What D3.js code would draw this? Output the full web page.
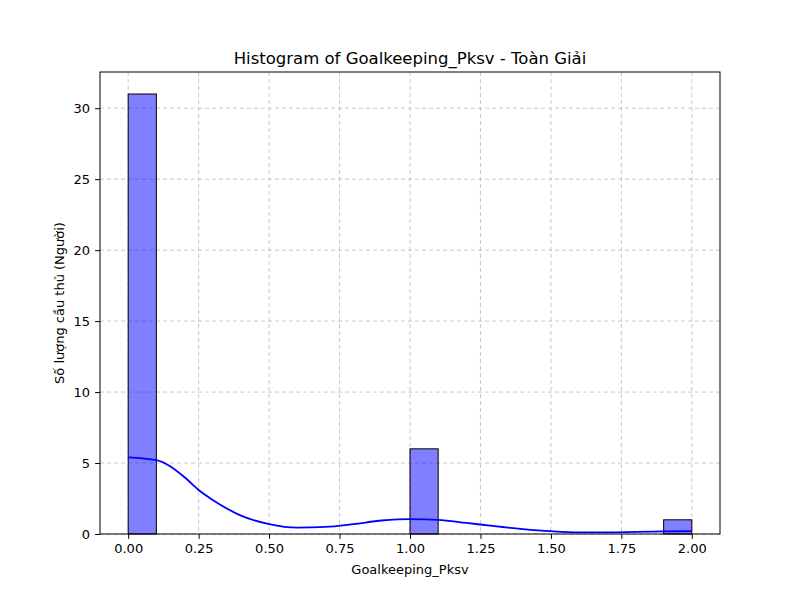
<!DOCTYPE html>
<html>
<head>
<meta charset="UTF-8">
<script src="https://cdn.jsdelivr.net/npm/d3@7"></script>
<style>body{margin:0;background:#fff}text{font-family:"DejaVu Sans",sans-serif}</style>
</head>
<body>
<script>
const binStarts = [0,0.1,0.2,0.3,0.4,0.5,0.6,0.7,0.8,0.9,1.0,1.1,1.2,1.3,1.4,1.5,1.6,1.7,1.8,1.9]
const binCounts = [31,0,0,0,0,0,0,0,0,0,6,0,0,0,0,0,0,0,0,1]
const kdeX = [0,0.1,0.2,0.25,0.3,0.4,0.5,0.6,0.7,0.8,0.9,1.0,1.1,1.2,1.3,1.4,1.5,1.6,1.7,1.8,1.9,2.0]
const kdeY = [5.4,5.2,4.0,3.1,2.4,1.3,0.7,0.45,0.5,0.7,0.95,1.05,1.0,0.78,0.55,0.35,0.2,0.12,0.12,0.15,0.18,0.2]
const xTicks = [0,0.25,0.5,0.75,1.0,1.25,1.5,1.75,2.0]
const yTicks = [0,5,10,15,20,25,30]

const w = 800, h = 600
const m = {l:100, r:720, t:72, b:534}
const svg = d3.select("body").append("svg").attr("width", w).attr("height", h)
const x = d3.scaleLinear().domain([-0.1, 2.1]).range([m.l, m.r])
const y = d3.scaleLinear().domain([0, 32.55]).range([m.b, m.t])

//Grid
svg.append("g").selectAll("line").data(xTicks).join("line")
  .attr("x1", d => x(d)).attr("x2", d => x(d)).attr("y1", m.t).attr("y2", m.b)
  .attr("stroke", "#b0b0b0").attr("stroke-dasharray", "4,3").attr("stroke-opacity", 0.7)
svg.append("g").selectAll("line").data(yTicks).join("line")
  .attr("y1", d => y(d)).attr("y2", d => y(d)).attr("x1", m.l).attr("x2", m.r)
  .attr("stroke", "#b0b0b0").attr("stroke-dasharray", "4,3").attr("stroke-opacity", 0.7)

//Bars
svg.append("g").selectAll("rect").data(binStarts.map((s, i) => ({s, c: binCounts[i]})).filter(d => d.c > 0)).join("rect")
  .attr("x", d => x(d.s)).attr("width", d => x(d.s + 0.1) - x(d.s))
  .attr("y", d => y(d.c)).attr("height", d => y(0) - y(d.c))
  .attr("fill", "rgba(0,0,255,0.5)").attr("stroke", "black")

//KDE
svg.append("path").datum(kdeX.map((v, i) => [v, kdeY[i]]))
  .attr("d", d3.line().x(d => x(d[0])).y(d => y(d[1])).curve(d3.curveMonotoneX))
  .attr("fill", "none").attr("stroke", "blue").attr("stroke-width", 1.8)

//Axes
const xAxis = svg.append("g").attr("transform", `translate(0,${m.b})`)
  .call(d3.axisBottom(x).tickValues(xTicks).tickFormat(d3.format(".2f")).tickSizeOuter(0).tickSize(4.9).tickPadding(5))
const yAxis = svg.append("g").attr("transform", `translate(${m.l},0)`)
  .call(d3.axisLeft(y).tickValues(yTicks).tickSizeOuter(0).tickSize(4.9).tickPadding(5))
for (const a of [xAxis, yAxis]) {
  a.select(".domain").remove()
  a.selectAll("text").attr("font-size", 13).attr("font-family", "DejaVu Sans").attr("fill", "black")
}
svg.append("rect").attr("x", m.l).attr("y", m.t).attr("width", m.r - m.l).attr("height", m.b - m.t)
  .attr("fill", "none").attr("stroke", "black").attr("stroke-width", 1)

//Labels
svg.append("text").attr("x", (m.l + m.r) / 2).attr("y", 64).attr("text-anchor", "middle")
  .attr("font-size", 16.5).text("Histogram of Goalkeeping_Pksv - Toàn Giải")
svg.append("text").attr("x", (m.l + m.r) / 2).attr("y", 574).attr("text-anchor", "middle")
  .attr("font-size", 13).text("Goalkeeping_Pksv")
svg.append("text").attr("transform", `translate(64,${(m.t + m.b) / 2}) rotate(-90)`).attr("text-anchor", "middle")
  .attr("font-size", 13).text("Số lượng cầu thủ (Người)")
</script>
</body>
</html>
